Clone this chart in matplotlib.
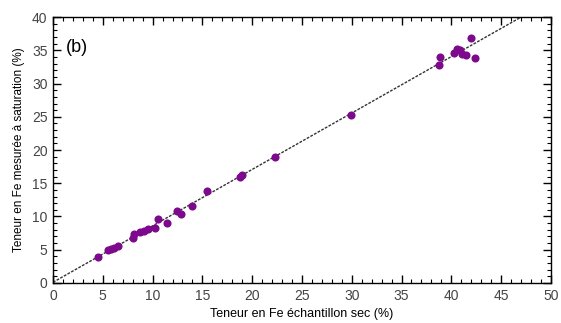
import matplotlib.pyplot as plt
from matplotlib.ticker import MultipleLocator

plt.rcParams['font.family'] = ['Liberation Sans', 'DejaVu Sans']

# Fe content: dry sample vs measured at saturation (%)
fe_sec = [4.5, 5.5, 5.8, 6.1, 6.5, 8.0, 8.1, 8.7, 9.1, 9.5, 10.2, 10.5, 11.4,
          12.5, 12.9, 14.0, 15.5, 18.8, 19.0, 22.3, 29.9, 38.8, 38.9, 40.3,
          40.6, 40.9, 41.1, 41.5, 42.0, 42.4]
fe_sat = [3.9, 5.0, 5.1, 5.3, 5.5, 6.8, 7.3, 7.7, 7.8, 8.1, 8.3, 9.6, 9.0,
          10.8, 10.4, 11.6, 13.8, 16.0, 16.3, 18.9, 25.3, 32.8, 34.0, 34.6,
          35.2, 35.0, 34.5, 34.3, 36.8, 33.9]

fit_x = [0, 47]
fit_y = [0.1, 40.0]

fig = plt.figure(figsize=(5.61, 3.23), dpi=100)
ax = fig.add_axes([0.0945, 0.124, 0.8875, 0.823])

ax.plot(fit_x, fit_y, color='#333333', linestyle=(0, (2, 1)), linewidth=1.0, zorder=2)
ax.scatter(fe_sec, fe_sat, s=34, color='#7d0a8c', zorder=3, linewidths=0)

ax.set_xlim(0, 50)
ax.set_ylim(0, 40)
ax.xaxis.set_major_locator(MultipleLocator(5))
ax.yaxis.set_major_locator(MultipleLocator(5))
ax.xaxis.set_minor_locator(MultipleLocator(1))
ax.yaxis.set_minor_locator(MultipleLocator(1))
ax.tick_params(which='both', direction='in', top=True, right=True,
               labelsize=10, labelcolor='#444444', pad=4)
ax.tick_params(which='major', length=6, width=1)
ax.tick_params(which='minor', length=3, width=0.8)
for s in ax.spines.values():
    s.set_linewidth(1)

ax.set_xlabel('Teneur en Fe échantillon sec (%)', fontsize=9, labelpad=4)
ax.set_ylabel('Teneur en Fe mesurée à saturation (%)', fontsize=8.5, labelpad=5)
ax.text(1.3, 35.4, '(b)', fontsize=13, va='center')

fig.savefig('out.png', dpi=100)
